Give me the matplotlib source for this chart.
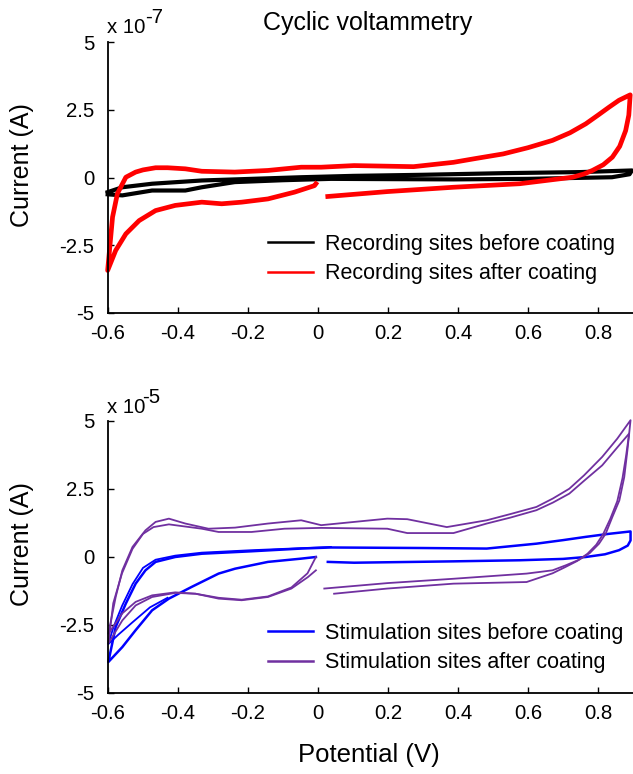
import matplotlib
matplotlib.use("Agg")
import matplotlib.pyplot as plt
from matplotlib.lines import Line2D

plt.rcParams['font.family'] = ['Liberation Sans', 'DejaVu Sans']
plt.rcParams['axes.unicode_minus'] = False

# ---------------- data (top panel, current in units of 1e-7 A) ----------------
rec_before_x = [-0.601, -0.559, -0.474, -0.332, -0.190, -0.048, 0.100, 0.300, 0.529, 0.750, 0.897,
                0.890, 0.840, 0.600, 0.387, 0.200, 0.037, -0.100, -0.238, -0.332, -0.379, -0.474,
                -0.559, -0.601]
rec_before_y = [-0.54, -0.36, -0.23, -0.11, -0.05, 0.01, 0.06, 0.10, 0.16, 0.20, 0.26,
                0.12, 0.01, -0.05, -0.07, -0.06, -0.05, -0.10, -0.17, -0.36, -0.48, -0.48,
                -0.66, -0.62]

rec_after_x = [0.028, 0.198, 0.387, 0.576, 0.727, 0.760, 0.784, 0.815, 0.841, 0.862, 0.879,
               0.888, 0.892,
               0.860, 0.831, 0.800, 0.765, 0.720, 0.670, 0.600, 0.529, 0.450, 0.387, 0.273,
               0.103, 0.009, -0.048, -0.143, -0.238, -0.332, -0.379, -0.430, -0.464, -0.500,
               -0.521, -0.549, -0.573, -0.587, -0.601,
               -0.578, -0.549, -0.511, -0.464, -0.408, -0.332, -0.275, -0.218, -0.143,
               -0.067, -0.010, -0.006]
rec_after_y = [-0.70, -0.52, -0.36, -0.23, 0.01, 0.13, 0.26, 0.47, 0.75, 1.15, 1.73,
               2.30, 3.05,
               2.85, 2.59, 2.30, 1.98, 1.65, 1.37, 1.10, 0.87, 0.70, 0.56, 0.40,
               0.44, 0.38, 0.38, 0.26, 0.20, 0.23, 0.32, 0.36, 0.36, 0.28,
               0.20, 0.01, -0.59, -1.46, -3.43,
               -2.69, -2.08, -1.59, -1.22, -1.03, -0.91, -0.97, -0.91, -0.79,
               -0.54, -0.30, -0.23]

# ---------------- data (bottom panel, current in units of 1e-5 A) ----------------
stim_before_x = [0.028, 0.103, 0.387, 0.576, 0.700, 0.765, 0.820, 0.860, 0.885, 0.893, 0.893,
                 0.830, 0.765, 0.700, 0.624, 0.482, 0.300, 0.037, -0.048, -0.190, -0.332, -0.408,
                 -0.464, -0.493, -0.521, -0.549, -0.578, -0.599,
                 -0.559, -0.521, -0.474, -0.426, -0.361, -0.284, -0.237, -0.143,
                 -0.048, -0.006]
stim_before_y = [-0.18, -0.21, -0.16, -0.12, -0.07, 0.00, 0.10, 0.25, 0.42, 0.61, 0.94,
                 0.85, 0.74, 0.62, 0.49, 0.31, 0.33, 0.35, 0.31, 0.21, 0.12, 0.00,
                 -0.18, -0.49, -0.98, -1.71, -2.57, -3.86,
                 -3.31, -2.69, -1.96, -1.53, -1.10, -0.61, -0.43, -0.18,
                 -0.06, 0.00]

stim_before2_x = [0.037, -0.190, -0.332, -0.408, -0.464, -0.500, -0.530, -0.560, -0.585,
                  -0.599, -0.570, -0.530, -0.480, -0.430]
stim_before2_y = [0.37, 0.25, 0.16, 0.05, -0.10, -0.40, -1.00, -1.80, -2.60,
                  -3.20, -2.85, -2.40, -1.85, -1.50]

stim_after_a_x = [0.018, 0.198, 0.387, 0.596, 0.670, 0.709, 0.746, 0.776, 0.803, 0.822,
                  0.841, 0.861, 0.875, 0.884, 0.893,
                  0.855, 0.812, 0.760, 0.718, 0.671, 0.624, 0.550, 0.482, 0.368, 0.255, 0.198,
                  0.009, -0.048, -0.143, -0.237, -0.313, -0.379, -0.426, -0.464, -0.493,
                  -0.530, -0.559, -0.578, -0.599,
                  -0.559, -0.521, -0.474, -0.408, -0.350, -0.284, -0.218, -0.143,
                  -0.076, -0.030, -0.006]
stim_after_a_y = [-1.16, -0.96, -0.80, -0.61, -0.49, -0.30, -0.10, 0.14, 0.49, 0.86,
                  1.47, 2.08, 2.94, 3.92, 5.03,
                  4.35, 3.68, 3.00, 2.51, 2.15, 1.84, 1.58, 1.35, 1.10, 1.39, 1.41,
                  1.17, 1.35, 1.23, 1.08, 1.04, 1.23, 1.41, 1.29, 0.98,
                  0.37, -0.49, -1.47, -2.82,
                  -2.07, -1.65, -1.41, -1.30, -1.35, -1.50, -1.57, -1.45,
                  -1.12, -0.60, 0.00]

stim_after_b_x = [0.046, 0.198, 0.387, 0.596, 0.670, 0.705, 0.740, 0.770, 0.795, 0.815,
                  0.835, 0.855, 0.870, 0.880, 0.889,
                  0.850, 0.812, 0.760, 0.718, 0.671, 0.624, 0.550, 0.482, 0.387, 0.255,
                  0.198, 0.009, -0.096, -0.190, -0.284, -0.332, -0.426, -0.470, -0.500,
                  -0.530, -0.560, -0.585, -0.599,
                  -0.559, -0.521, -0.474, -0.408, -0.350, -0.284, -0.218, -0.143, -0.076,
                  -0.029, -0.006]
stim_after_b_y = [-1.35, -1.16, -0.98, -0.92, -0.60, -0.38, -0.15, 0.12, 0.45, 0.85,
                  1.40, 2.05, 2.90, 3.70, 4.54,
                  3.95, 3.37, 2.80, 2.33, 2.00, 1.72, 1.45, 1.23, 0.88, 0.88,
                  1.04, 1.07, 1.04, 0.92, 0.92, 1.04, 1.20, 1.10, 0.85,
                  0.30, -0.60, -1.70, -3.18,
                  -2.33, -1.78, -1.47, -1.32, -1.35, -1.53, -1.59, -1.47, -1.16,
                  -0.74, -0.49]

x_ticks = [-0.6, -0.4, -0.2, 0, 0.2, 0.4, 0.6, 0.8]
x_ticklabels = ['-0.6', '-0.4', '-0.2', '0', '0.2', '0.4', '0.6', '0.8']
y_ticks = [-5, -2.5, 0, 2.5, 5]
y_ticklabels = ['-5', '-2.5', '0', '2.5', '5']

labels_top = ['Recording sites before coating', 'Recording sites after coating']
labels_bottom = ['Stimulation sites before coating', 'Stimulation sites after coating']

PURPLE = '#7030A0'

W, H = 633, 774
fig = plt.figure(figsize=(W / 100, H / 100), dpi=100)


def style(ax):
    ax.set_xlim(-0.6, 0.9)
    ax.set_ylim(-5, 5)
    ax.spines['top'].set_visible(False)
    ax.spines['right'].set_visible(False)
    for s in ('left', 'bottom'):
        ax.spines[s].set_linewidth(1.3)
    ax.set_xticks(x_ticks)
    ax.set_xticklabels(x_ticklabels)
    ax.set_yticks(y_ticks)
    ax.set_yticklabels(y_ticklabels)
    ax.tick_params(direction='in', length=4, width=1, labelsize=14.7)
    ax.tick_params(axis='y', pad=10)
    ax.tick_params(axis='x', pad=8)


ax1 = fig.add_axes([108 / W, 1 - 313 / H, (W - 108) / W, 271 / H])
style(ax1)
ax1.plot(rec_before_x, rec_before_y, color='black', lw=3.0, clip_on=False)
ax1.plot(rec_after_x, rec_after_y, color='red', lw=3.4, clip_on=False)

ax2 = fig.add_axes([108 / W, 1 - 693 / H, (W - 108) / W, 272 / H])
style(ax2)
ax2.plot(stim_before_x, stim_before_y, color='blue', lw=1.8, clip_on=False)
ax2.plot(stim_before2_x, stim_before2_y, color='blue', lw=1.3, clip_on=False)
ax2.plot(stim_after_a_x, stim_after_a_y, color=PURPLE, lw=1.3, clip_on=False)
ax2.plot(stim_after_b_x, stim_after_b_y, color=PURPLE, lw=1.3, clip_on=False)


def add_legend(ax, labels, colors, top_px):
    handles = [Line2D([], [], color=c, lw=1.8) for c in colors]
    ax.legend(handles, labels, loc='upper left',
              bbox_to_anchor=(268 / W, 1 - top_px / H), bbox_transform=fig.transFigure,
              frameon=False, borderpad=0, borderaxespad=0, fontsize=15.5,
              handlelength=2.1, handletextpad=0.55, labelspacing=0.38)


add_legend(ax1, labels_top, ['black', 'red'], 234)
add_legend(ax2, labels_bottom, ['blue', PURPLE], 623)

# Title, exponent labels, axis labels
fig.text(368 / W, 1 - 30 / H, 'Cyclic voltammetry', ha='center', va='baseline', fontsize=18)
fig.text(107 / W, 1 - 33 / H, 'x 10', ha='left', va='baseline', fontsize=14.7)
fig.text(145 / W, 1 - 23 / H, '-7', ha='left', va='baseline', fontsize=14.7)
fig.text(107 / W, 1 - 413 / H, 'x 10', ha='left', va='baseline', fontsize=14.7)
fig.text(142 / W, 1 - 403 / H, '-5', ha='left', va='baseline', fontsize=14.7)
fig.text(22 / W, 1 - 165 / H, 'Current (A)', rotation=90, ha='center', va='center', fontsize=18)
fig.text(22 / W, 1 - 544 / H, 'Current (A)', rotation=90, ha='center', va='center', fontsize=18)
fig.text(369 / W, 1 - 755 / H, 'Potential (V)', ha='center', va='center', fontsize=18.5)

fig.savefig('out.png', dpi=100)
